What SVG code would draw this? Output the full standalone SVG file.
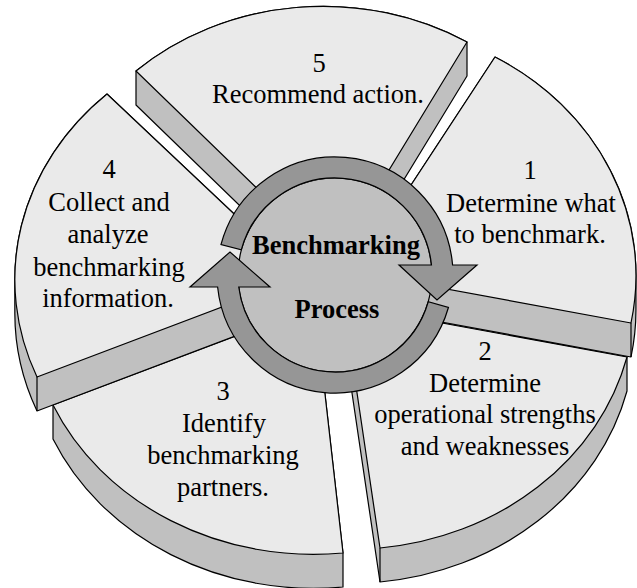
<svg xmlns="http://www.w3.org/2000/svg" width="637" height="588" viewBox="0 0 637 588">
<style>
.top{fill:#eaeaea;stroke:#000;stroke-width:1.2;stroke-linejoin:round}
.side{fill:#c0c0c0;stroke:#000;stroke-width:1.2;stroke-linejoin:round}
.edge{fill:none;stroke:#000;stroke-width:1.2}
.ring{fill:#969696;stroke:#000;stroke-width:1.2;stroke-linejoin:miter}
.disc{fill:#c0c0c0;stroke:#000;stroke-width:1.2}
.lbl{font-family:"Liberation Serif","Times New Roman",serif;font-size:26.5px;text-anchor:middle;fill:#000}
.hub{font-weight:bold}
</style>
<rect width="637" height="588" fill="#fff"/>
<g id="slice-5">
<path class="side" d="M136,71 A280,252 0 0 1 467,42 L467,76 L333,296 L136,105 Z"/>
<path class="top" d="M333,262 L136,71 A280,252 0 0 1 467,42 Z"/>
<text class="lbl" x="319" y="72">5</text>
<text class="lbl" x="318" y="103">Recommend action.</text>
</g>
<g id="slice-2">
<path class="side" d="M344,305 L627,357 L627,391 A285,252 0 0 1 380,582 L344,339 Z"/>
<path class="edge" d="M380,548 L380,582"/>
<path class="top" d="M344,305 L627,357 A285,252 0 0 1 380,548 Z"/>
<text class="lbl" x="485" y="360">2</text>
<text class="lbl" x="485" y="392">Determine</text>
<text class="lbl" x="485" y="423">operational strengths</text>
<text class="lbl" x="485" y="455">and weaknesses</text>
</g>
<g id="slice-1">
<path class="side" d="M354,272 L495,57 A280,252 0 0 1 635.97,275.74 L635.97,309.74 A280,252 0 0 1 631,357 L354,306 Z"/>
<path class="edge" d="M631,323 L631,357"/>
<path class="top" d="M354,272 L495,57 A280,252 0 0 1 631,323 Z"/>
<text class="lbl" x="530" y="179">1</text>
<text class="lbl" x="531" y="212">Determine what</text>
<text class="lbl" x="530" y="243">to benchmark.</text>
</g>
<g id="slice-3">
<path class="side" d="M315,306 L343,553 L343,587 A285,252 0 0 1 53,439 L53,405 Z"/>
<path class="top" d="M315,306 L343,553 A285,252 0 0 1 53,405 Z"/>
<text class="lbl" x="223" y="400">3</text>
<text class="lbl" x="224" y="432">Identify</text>
<text class="lbl" x="223" y="464">benchmarking</text>
<text class="lbl" x="223" y="496">partners.</text>
</g>
<g id="slice-4">
<path class="side" d="M301,277 L301,311 L37,411 A285,252 0 0 1 14.83,313.56 L14.83,279.56 A285,252 0 0 1 107,94 Z"/>
<path class="edge" d="M37,377 L37,411"/>
<path class="top" d="M301,277 L37,377 A285,252 0 0 1 107,94 Z"/>
<text class="lbl" x="109" y="178">4</text>
<text class="lbl" x="109" y="211">Collect and</text>
<text class="lbl" x="108" y="243">analyze</text>
<text class="lbl" x="109" y="276">benchmarking</text>
<text class="lbl" x="108" y="307">information.</text>
</g>
<g id="hub">
<circle class="disc" cx="335" cy="275" r="97"/>
<text class="lbl hub" x="336" y="254">Benchmarking</text>
<text class="lbl hub" x="337" y="318">Process</text>
</g>
<g id="connectors">
<path class="ring" d="M221.02,244.46 A118,118 0 0 1 452.58,265 L477,265 L437,300 L399,265 L431.48,265 A97,97 0 0 0 241.30,249.89 Z"/>
<path class="ring" d="M448.43,307.53 A118,118 0 0 1 217.61,287 L190,287 L230,252 L270,287 L238.74,287 A97,97 0 0 0 428.24,301.74 Z"/>
</g>
</svg>
